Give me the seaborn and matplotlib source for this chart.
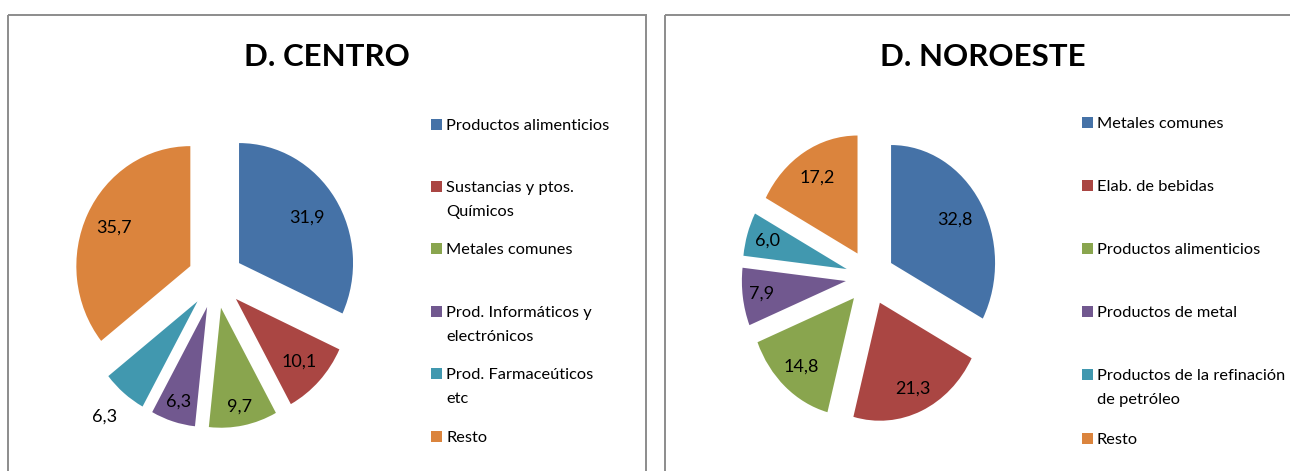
import numpy as np
import matplotlib
matplotlib.use("Agg")
import matplotlib.pyplot as plt
from matplotlib.patches import Rectangle
import seaborn as sns

# ---------------- data ----------------
centro_categories = [
    "Productos alimenticios",
    "Sustancias y ptos.\nQuímicos",
    "Metales comunes",
    "Prod. Informáticos y\nelectrónicos",
    "Prod. Farmaceúticos\netc",
    "Resto",
]
centro_values = [31.9, 10.1, 9.7, 6.3, 6.3, 35.7]

noroeste_categories = [
    "Metales comunes",
    "Elab. de bebidas",
    "Productos alimenticios",
    "Productos de metal",
    "Productos de la refinación\nde petróleo",
    "Resto",
]
noroeste_values = [32.8, 21.3, 14.8, 7.9, 6.0, 17.2]

titles = ["D. CENTRO", "D. NOROESTE"]

# ---------------- style ----------------
sns.set_theme(style="white")
plt.rcParams["font.family"] = ["Lato", "DejaVu Sans"]
palette = sns.color_palette(["#4572A7", "#AA4643", "#89A54E", "#71588F", "#4198AF", "#DB843D"])

W, H = 1290, 471
fig = plt.figure(figsize=(W / 100, H / 100), dpi=100)
fig.patch.set_facecolor("white")

bg = fig.add_axes([0, 0, 1, 1])
bg.set_xlim(0, W)
bg.set_ylim(H, 0)
bg.axis("off")

layouts = [
    dict(box=(8, 15, 638), pie=(215.5, 278.9, 114, 120), explode=0.245,
         label_dist=[0.71, 0.76, 0.84, 0.83, 1.26, 0.74],
         title_x=327, leg_x=431, leg_y0=124, pitch=62.4),
    dict(box=(665, 15, 640), pie=(870.1, 277.3, 104, 118), explode=0.235,
         label_dist=[0.72, 0.79, 0.77, 0.82, 0.80, 0.75],
         title_x=983, leg_x=1082, leg_y0=122, pitch=63.2),
]
series = [(centro_categories, centro_values), (noroeste_categories, noroeste_values)]

LIM = 1.6
LINE_GAP = 24
for (cats, vals), title, lay in zip(series, titles, layouts):
    bx, by, bw = lay["box"]
    bg.add_patch(Rectangle((bx, by), bw, 520, fill=False, edgecolor="#8c8c8c",
                           linewidth=1.4, clip_on=False))
    bg.text(lay["title_x"], 66, title, ha="center", va="baseline",
            fontsize=22.5, fontweight="bold", color="black")

    # legend (Excel-like evenly spaced entries)
    for i, (cat, col) in enumerate(zip(cats, palette)):
        y = lay["leg_y0"] + i * lay["pitch"]
        bg.add_patch(Rectangle((lay["leg_x"], y - 5.5), 11, 11, facecolor=col,
                               edgecolor="none"))
        for k, line in enumerate(cat.split("\n")):
            bg.text(lay["leg_x"] + 15, y + k * LINE_GAP, line, ha="left",
                    va="center_baseline", fontsize=11.8, color="black")

    # pie
    cx, cy, sx, sy = lay["pie"]
    wpx, hpx = 2 * LIM * sx, 2 * LIM * sy
    ax = fig.add_axes([(cx - wpx / 2) / W, (H - cy - hpx / 2) / H, wpx / W, hpx / H])
    ax.patch.set_alpha(0)
    wedges, _ = ax.pie(vals, colors=palette, startangle=90, counterclock=False,
                       explode=[lay["explode"]] * len(vals), radius=1,
                       wedgeprops=dict(linewidth=0))
    ax.set_aspect("auto")
    ax.set_xlim(-LIM, LIM)
    ax.set_ylim(-LIM, LIM)
    ax.axis("off")
    for w, v, d in zip(wedges, vals, lay["label_dist"]):
        mid = np.deg2rad((w.theta1 + w.theta2) / 2)
        ox, oy = w.center
        ax.text(ox + d * np.cos(mid), oy + d * np.sin(mid),
                f"{v:.1f}".replace(".", ","), ha="center", va="center",
                fontsize=13, color="black")

fig.savefig("out.png", dpi=100, facecolor="white")
